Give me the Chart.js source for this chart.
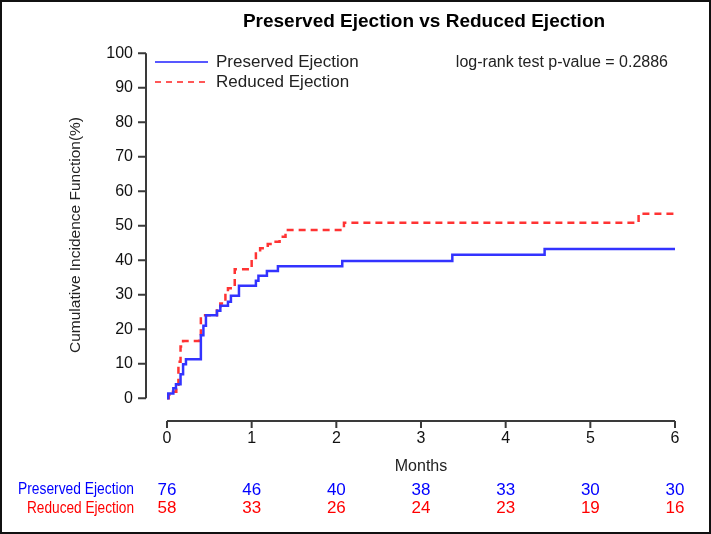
<!DOCTYPE html>
<html>
<head>
<meta charset="utf-8">
<script src="https://cdn.jsdelivr.net/npm/chart.js@4"></script>
<style>
  body { margin: 0; background: #fff; }
  canvas { display: block; }
</style>
</head>
<body>
<canvas id="kmChart" width="711" height="534"></canvas>
<script>
// cumulative incidence curves (months, %)
let preservedTimes = [0, 0.015, 0.075, 0.106, 0.16, 0.19, 0.224, 0.40, 0.43, 0.46, 0.59, 0.63, 0.72, 0.755, 0.85, 1.05, 1.08, 1.18, 1.31, 2.07, 3.37, 4.46, 6.0];
let preservedCIF   = [0, 1.4, 2.9, 4.1, 7.0, 9.9, 11.3, 18.3, 21.0, 24.1, 25.4, 26.8, 28.0, 29.7, 32.6, 34.1, 35.5, 36.9, 38.3, 39.8, 41.6, 43.3, 43.3];

let reducedTimes = [0, 0.02, 0.07, 0.11, 0.135, 0.16, 0.19, 0.38, 0.40, 0.59, 0.63, 0.69, 0.72, 0.80, 1.00, 1.05, 1.10, 1.19, 1.25, 1.33, 1.40, 2.09, 5.57, 6.0];
let reducedCIF   = [0, 1.0, 1.9, 3.9, 10.6, 15.0, 16.6, 18.3, 24.1, 26.1, 27.5, 30.4, 31.9, 37.4, 40.1, 42.0, 43.5, 44.7, 45.4, 46.8, 48.8, 50.9, 53.5, 53.5];

// axis ticks
let xTicks = [0, 1, 2, 3, 4, 5, 6];
let yTicks = [0, 10, 20, 30, 40, 50, 60, 70, 80, 90, 100];

// number at risk below the plot
let riskPreserved = [76, 46, 40, 38, 33, 30, 30];
let riskReduced   = [58, 33, 26, 24, 23, 19, 16];

function pairs(xs, ys) {
    return xs.map((x, i) => ({ x: x, y: ys[i] }));
}

const FONT = '"Liberation Sans", Arial, sans-serif';

// draws frame, axes, titles, legend and the risk table
const kmDecor = {
    id: 'kmDecor',
    beforeDraw(chart) {
        const ctx = chart.ctx;
        ctx.save();
        ctx.fillStyle = '#fff';
        ctx.fillRect(0, 0, chart.width, chart.height);
        ctx.strokeStyle = '#111';
        ctx.lineWidth = 2;
        ctx.strokeRect(1, 1, chart.width - 2, chart.height - 2);
        ctx.restore();
    },
    afterDraw(chart) {
        const ctx = chart.ctx;
        const xs = chart.scales.x;
        const ys = chart.scales.y;
        const area = chart.chartArea;
        ctx.save();

        // axes in R style, detached
        ctx.strokeStyle = '#3a3a3a';
        ctx.lineWidth = 2;
        ctx.beginPath();
        ctx.moveTo(area.left, ys.getPixelForValue(0));
        ctx.lineTo(area.left, ys.getPixelForValue(100));
        yTicks.forEach(v => {
            const py = ys.getPixelForValue(v);
            ctx.moveTo(area.left, py);
            ctx.lineTo(area.left - 8, py);
        });
        ctx.moveTo(xs.getPixelForValue(0), area.bottom);
        ctx.lineTo(xs.getPixelForValue(6), area.bottom);
        xTicks.forEach(v => {
            const px = xs.getPixelForValue(v);
            ctx.moveTo(px, area.bottom);
            ctx.lineTo(px, area.bottom + 7);
        });
        ctx.stroke();

        // title
        ctx.fillStyle = '#000';
        ctx.textBaseline = 'middle';
        ctx.textAlign = 'center';
        ctx.font = 'bold 19px ' + FONT;
        ctx.fillText('Preserved Ejection vs Reduced Ejection', 424, 22);

        // axis titles
        ctx.font = '16px ' + FONT;
        ctx.fillStyle = '#222';
        ctx.fillText('Months', 421, 467);
        ctx.save();
        ctx.translate(76, 235);
        ctx.rotate(-Math.PI / 2);
        ctx.font = '15.5px ' + FONT;
        ctx.fillText('Cumulative Incidence Function(%)', 0, 0);
        ctx.restore();

        // p-value
        ctx.textAlign = 'right';
        ctx.font = '16px ' + FONT;
        ctx.fillText('log-rank test p-value = 0.2886', 668, 63);

        // legend
        ctx.lineWidth = 1.5;
        ctx.strokeStyle = '#2020ff';
        ctx.beginPath();
        ctx.moveTo(155, 62);
        ctx.lineTo(208, 62);
        ctx.stroke();
        ctx.strokeStyle = '#ff2020';
        ctx.setLineDash([6, 5]);
        ctx.beginPath();
        ctx.moveTo(155, 82);
        ctx.lineTo(208, 82);
        ctx.stroke();
        ctx.setLineDash([]);
        ctx.textAlign = 'left';
        ctx.font = '17px ' + FONT;
        ctx.fillText('Preserved Ejection', 216, 62);
        ctx.fillText('Reduced Ejection', 216, 82);

        // number at risk (labels are condensed in the original)
        ctx.font = '16px ' + FONT;
        ctx.textAlign = 'right';
        ctx.fillStyle = '#0000ff';
        ctx.fillText('Preserved Ejection', 134, 490, 116);
        ctx.fillStyle = '#ff0000';
        ctx.fillText('Reduced Ejection', 134, 508.5, 107);
        ctx.textAlign = 'center';
        ctx.font = '17px ' + FONT;
        xTicks.forEach((t, i) => {
            const px = xs.getPixelForValue(t);
            ctx.fillStyle = '#0000ff';
            ctx.fillText(String(riskPreserved[i]), px, 490);
            ctx.fillStyle = '#ff0000';
            ctx.fillText(String(riskReduced[i]), px, 508.5);
        });
        ctx.restore();
    }
};

const ctx = document.getElementById('kmChart').getContext('2d');
const kmChart = new Chart(ctx, {
    type: 'line',
    data: {
        datasets: [{
            label: 'Preserved Ejection',
            data: pairs(preservedTimes, preservedCIF),
            borderColor: '#3333ff',
            borderWidth: 2.5,
            stepped: 'before',
            pointRadius: 0,
            fill: false
        }, {
            label: 'Reduced Ejection',
            data: pairs(reducedTimes, reducedCIF),
            borderColor: '#ff3333',
            borderWidth: 2.5,
            borderDash: [7, 5],
            stepped: 'before',
            pointRadius: 0,
            fill: false
        }]
    },
    options: {
        responsive: false,
        animation: false,
        devicePixelRatio: 1,
        layout: { padding: { top: 53.3, right: 36, bottom: 0, left: 0 } },
        plugins: {
            legend: { display: false },
            tooltip: { enabled: false },
            title: { display: false }
        },
        scales: {
            x: {
                type: 'linear',
                min: -0.248,
                max: 6,
                grid: { display: false, drawTicks: false, tickLength: 0 },
                border: { display: false },
                afterBuildTicks: s => { s.ticks = xTicks.map(v => ({ value: v })); },
                afterFit: s => { s.height = 113; },
                ticks: {
                    color: '#111',
                    padding: 8,
                    font: { family: FONT, size: 16 }
                }
            },
            y: {
                type: 'linear',
                min: -6.58,
                max: 100,
                grid: { display: false, drawTicks: false, tickLength: 0 },
                border: { display: false },
                afterBuildTicks: s => { s.ticks = yTicks.map(v => ({ value: v })); },
                afterFit: s => { s.width = 146; },
                ticks: {
                    color: '#111',
                    padding: 13,
                    font: { family: FONT, size: 16 }
                }
            }
        }
    },
    plugins: [kmDecor]
});
</script>
</body>
</html>
